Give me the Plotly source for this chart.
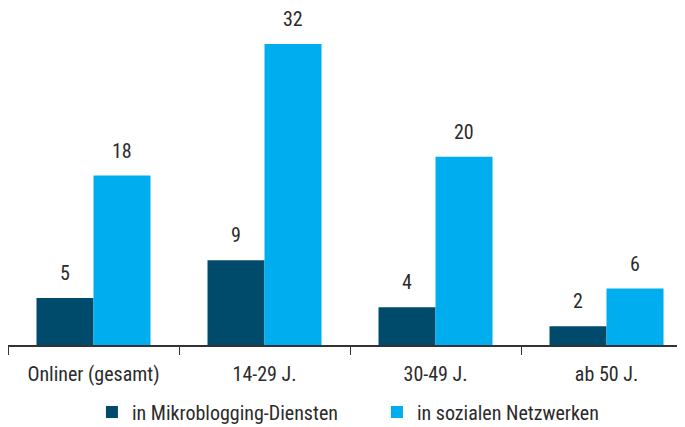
import plotly.graph_objects as go

categories = ["Onliner (gesamt)", "14-29 J.", "30-49 J.", "ab 50 J."]
mikro = [5, 9, 4, 2]
sozial = [18, 32, 20, 6]
series_names = ["in Mikroblogging-Diensten", "in sozialen Netzwerken"]

DARK = "#004B6C"
LIGHT = "#00AEEF"
TXT = "#2b2b2b"
FONT = "Roboto Condensed, Arial Narrow, sans-serif"

fig = go.Figure()
fig.add_bar(x=categories, y=mikro, name=series_names[0], marker_color=DARK,
            marker_line_width=0, offsetgroup="a")
fig.add_bar(x=categories, y=sozial, name=series_names[1], marker_color=LIGHT,
            marker_line_width=0, offsetgroup="b")

bw = 1/3
for i, (m, s) in enumerate(zip(mikro, sozial)):
    for val, dx in ((m, -bw/2), (s, bw/2)):
        fig.add_annotation(x=i + dx, y=val, text=str(val), showarrow=False,
                           yanchor="bottom", yshift=15, height=18, borderpad=0,
                           valign="middle",
                           font=dict(size=20, color=TXT, family=FONT))

fig.update_layout(
    width=677, height=419,
    margin=dict(l=0, r=0, t=2, b=82, autoexpand=False),
    paper_bgcolor="white", plot_bgcolor="white",
    barmode="group", bargap=1/3, bargroupgap=0,
    font=dict(family=FONT, size=20, color=TXT),
    showlegend=True,
    legend=dict(orientation="h", x=0.124, xanchor="left", y=-0.2, yanchor="middle",
                font=dict(size=20, color=TXT, family=FONT), itemwidth=30,
                entrywidth=240, traceorder="normal"),
    xaxis=dict(type="category", range=[-0.5, 3.459], tickson="boundaries",
               ticks="outside", ticklen=8, tickcolor="#333", tickwidth=1.3,
               showline=True, linecolor="#333", linewidth=1.5,
               showgrid=False, zeroline=False, ticklabelstandoff=10,
               automargin=False,
               tickfont=dict(size=20, color=TXT, family=FONT)),
    yaxis=dict(range=[0, 35.6], visible=False, showgrid=False, zeroline=False,
               automargin=False),
)

fig.write_html("out.html")
